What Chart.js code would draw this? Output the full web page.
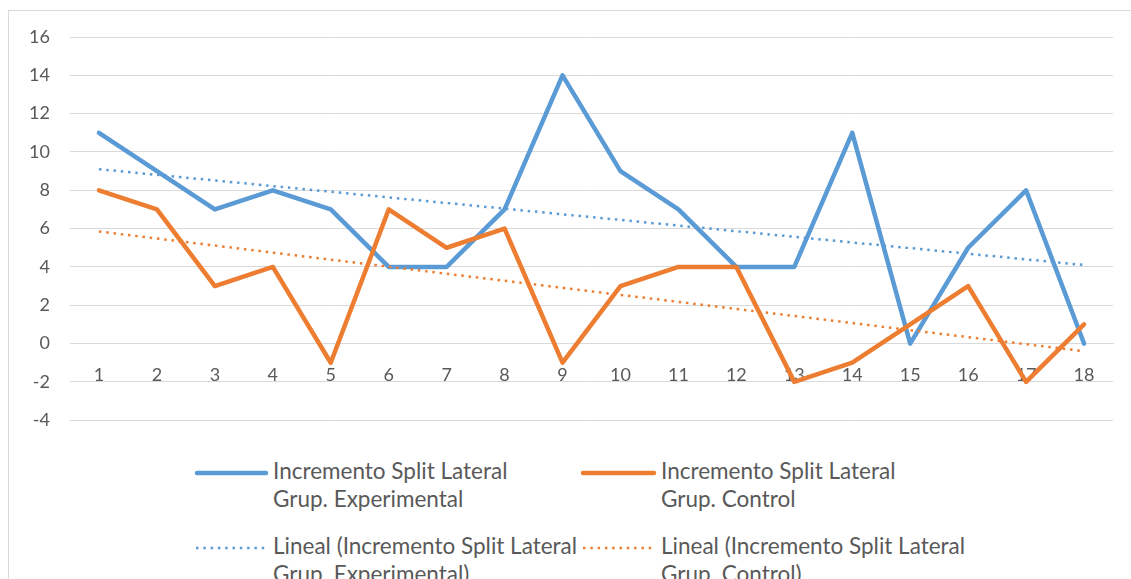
<!DOCTYPE html>
<html>
<head>
<meta charset="utf-8">
<script src="https://cdn.jsdelivr.net/npm/chart.js@4.4.1/dist/chart.umd.min.js"></script>
<style>
  html, body { margin: 0; padding: 0; background: #fff; overflow: hidden; width: 1131px; height: 579px; }
  #frame { position: absolute; left: 8px; top: 10px; width: 1200px; height: 700px; border: 1px solid #d9d9d9; box-sizing: border-box; }
  #wrap { position: absolute; left: 0; top: 0; width: 1131px; height: 451px; }
  .leg { position: absolute; font-family: Lato, sans-serif; font-size: 22.5px; color: #595959; line-height: 28px; white-space: nowrap; }
  .sw { position: absolute; }
</style>
</head>
<body>
<div id="frame"></div>
<div id="wrap"><canvas id="c" width="1131" height="451"></canvas></div>

<svg class="sw" style="left:192px;top:467px" width="80" height="12"><line x1="5" y1="6" x2="74" y2="6" stroke="#5B9BD5" stroke-width="4.5" stroke-linecap="round"/></svg>
<div class="leg" id="l1" style="left:273px;top:457px">Incremento Split Lateral<br>Grup. Experimental</div>
<svg class="sw" style="left:578px;top:467px" width="80" height="12"><line x1="5" y1="6" x2="76" y2="6" stroke="#ED7D31" stroke-width="4.5" stroke-linecap="round"/></svg>
<div class="leg" id="l2" style="left:661px;top:457px">Incremento Split Lateral<br>Grup. Control</div>
<svg class="sw" style="left:192px;top:542px" width="80" height="12"><line x1="4" y1="6" x2="74" y2="6" stroke="#5B9BD5" stroke-width="2.5" stroke-dasharray="2.5,4.8"/></svg>
<div class="leg" id="l3" style="left:273px;top:532px">Lineal (Incremento Split Lateral<br>Grup. Experimental)</div>
<svg class="sw" style="left:579px;top:542px" width="80" height="12"><line x1="4" y1="6" x2="76" y2="6" stroke="#ED7D31" stroke-width="2.5" stroke-dasharray="2.5,4.8"/></svg>
<div class="leg" id="l4" style="left:661px;top:532px">Lineal (Incremento Split Lateral<br>Grup. Control)</div>

<script>
const categories = ["1","2","3","4","5","6","7","8","9","10","11","12","13","14","15","16","17","18"];
const experimental = [11, 9, 7, 8, 7, 4, 4, 7, 14, 9, 7, 4, 4, 11, 0, 5, 8, 0];
const control = [8, 7, 3, 4, -1, 7, 5, 6, -1, 3, 4, 4, -2, -1, 1, 3, -2, 1];
// linear trend lines: value at first and last category
const trendExpEnds = [9.1, 4.1];
const trendCtrlEnds = [5.85, -0.4];
const yTicks = [-4, -2, 0, 2, 4, 6, 8, 10, 12, 14, 16];

function trendSeries(ends) {
  return categories.map((c, i) => i === 0 ? ends[0] : (i === categories.length - 1 ? ends[1] : null));
}

const BLUE = '#5B9BD5', ORANGE = '#ED7D31';
const lineBase = { pointRadius: 0, pointHoverRadius: 0, tension: 0, fill: false, borderJoinStyle: 'round', borderCapStyle: 'round' };

new Chart(document.getElementById('c'), {
  type: 'line',
  data: {
    labels: categories,
    datasets: [
      Object.assign({}, lineBase, { label: 'Lineal (Incremento Split Lateral Grup. Control)', data: trendSeries(trendCtrlEnds), borderColor: ORANGE, borderWidth: 2.5, borderDash: [2.5, 4.8], borderCapStyle: 'butt', spanGaps: true }),
      Object.assign({}, lineBase, { label: 'Lineal (Incremento Split Lateral Grup. Experimental)', data: trendSeries(trendExpEnds), borderColor: BLUE, borderWidth: 2.5, borderDash: [2.5, 4.8], borderCapStyle: 'butt', spanGaps: true }),
      Object.assign({}, lineBase, { label: 'Incremento Split Lateral Grup. Control', data: control, borderColor: ORANGE, borderWidth: 4.5 }),
      Object.assign({}, lineBase, { label: 'Incremento Split Lateral Grup. Experimental', data: experimental, borderColor: BLUE, borderWidth: 4.5 })
    ]
  },
  options: {
    responsive: false,
    animation: false,
    events: [],
    layout: { padding: { left: 0, right: 18, top: 37, bottom: 9 } },
    plugins: { legend: { display: false }, tooltip: { enabled: false } },
    scales: {
      x: {
        type: 'category',
        position: { y: 0 },
        offset: true,
        grid: { display: false, drawTicks: false },
        border: { display: true, color: '#d9d9d9', width: 1 },
        ticks: { color: '#595959', font: { family: 'Lato', size: 18 }, padding: 21, maxRotation: 0, autoSkip: false }
      },
      y: {
        min: -4, max: 16,
        afterBuildTicks: (s) => { s.ticks = yTicks.map(v => ({ value: v })); },
        afterFit: (s) => { s.width = 70; },
        grid: { color: '#d9d9d9', lineWidth: 1, drawTicks: false },
        border: { display: false },
        ticks: { color: '#595959', font: { family: 'Lato', size: 18 }, padding: 20 }
      }
    }
  }
});
</script>
</body>
</html>
